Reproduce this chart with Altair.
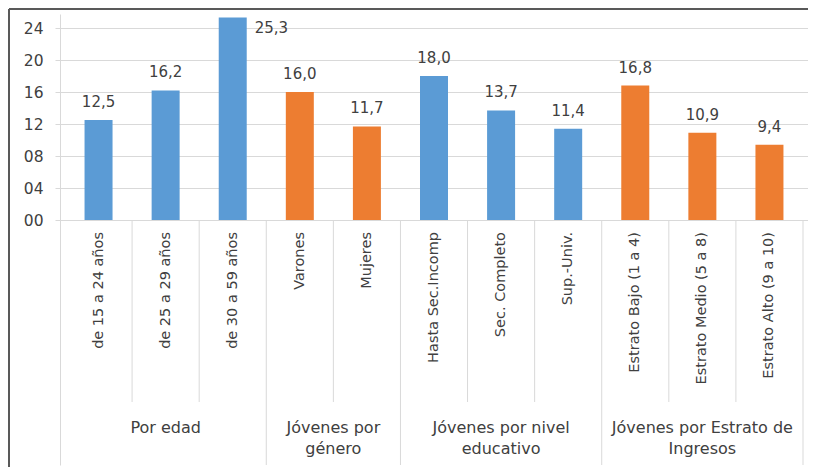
import altair as alt
import pandas as pd

categories = ["de 15 a 24 años", "de 25 a 29 años", "de 30 a 59 años",
              "Varones", "Mujeres",
              "Hasta Sec.Incomp", "Sec. Completo", "Sup.-Univ.",
              "Estrato Bajo (1 a 4)", "Estrato Medio (5 a 8)", "Estrato Alto (9 a 10)"]
values = [12.5, 16.2, 25.3, 16.0, 11.7, 18.0, 13.7, 11.4, 16.8, 10.9, 9.4]
groups = ["Por edad", "Jóvenes por\ngénero", "Jóvenes por nivel\neducativo",
          "Jóvenes por Estrato de\nIngresos"]
group_sizes = [3, 2, 3, 3]
group_colors = ["#5B9BD5", "#ED7D31", "#5B9BD5", "#ED7D31"]
y_ticks = [0, 4, 8, 12, 16, 20, 24]

FONT = "DejaVu Sans"
TXT = "#404040"
GRID = "#d9d9d9"

rows = []
i = 0
bounds = []
gstart = 0
grows = []
for g, n in zip(groups, group_sizes):
    for _ in range(n):
        rows.append({"idx": i, "xc": i + 0.5, "cat": categories[i], "value": values[i],
                     "grp": g, "lab": f"{values[i]:.1f}".replace(".", ",")})
        i += 1
    grows.append({"grp": g, "xc": gstart + n / 2.0, "b": gstart + n})
    for k in range(1, n):
        bounds.append({"b": gstart + k})
    gstart += n
df = pd.DataFrame(rows)
gdf = pd.DataFrame(grows)
bdf = pd.DataFrame(bounds)

YMIN, YMAX = -30.625, 25.75
xs = alt.Scale(domain=[0, len(categories)], nice=False, zero=False)
ys = alt.Scale(domain=[YMIN, YMAX], nice=False, zero=False)

base = alt.Chart(df)

bars = base.mark_bar(size=28).encode(
    x=alt.X("xc:Q", scale=xs, axis=None),
    y=alt.Y("value:Q", scale=ys, title=None,
            axis=alt.Axis(values=y_ticks, grid=True, gridColor=GRID, domainColor=GRID,
                          tickColor=GRID, tickSize=5, labelPadding=12, labelFontSize=15.5,
                          labelFont=FONT, labelColor=TXT,
                          labelExpr="datum.value < 10 ? '0' + datum.value : '' + datum.value")),
    color=alt.Color("grp:N", scale=alt.Scale(domain=groups, range=group_colors), legend=None),
)

vlabels = base.transform_filter("datum.value <= 24").mark_text(
    font=FONT, fontSize=15, color=TXT, baseline="middle", dy=-18
).encode(x=alt.X("xc:Q"), y=alt.Y("value:Q"), text="lab:N")

olabels = base.transform_filter("datum.value > 24").transform_calculate(ly="24").mark_text(
    font=FONT, fontSize=15, color=TXT, baseline="middle", align="left", dx=22
).encode(x=alt.X("xc:Q"), y=alt.Y("ly:Q"), text="lab:N")

catlabels = base.transform_calculate(ly="-1.5").mark_text(
    font=FONT, fontSize=14.5, color=TXT, angle=270, align="right", baseline="middle"
).encode(x=alt.X("xc:Q"), y=alt.Y("ly:Q"), text="cat:N")

short_sep = alt.Chart(bdf).transform_calculate(y0="0", y1="-22.75").mark_rule(
    color=GRID, strokeWidth=1).encode(x=alt.X("b:Q"), y=alt.Y("y0:Q"), y2="y1:Q")

group_sep = alt.Chart(gdf).transform_calculate(y0="0", y1=str(YMIN)).mark_rule(
    color=GRID, strokeWidth=1).encode(x=alt.X("b:Q"), y=alt.Y("y0:Q"), y2="y1:Q")

glabels = alt.Chart(gdf).transform_calculate(ly="-26").mark_text(
    font=FONT, fontSize=16, color=TXT, baseline="middle", align="center",
    lineBreak="\n", lineHeight=21
).encode(x=alt.X("xc:Q"), y=alt.Y("ly:Q"), text="grp:N")

frame_top = alt.Chart(df.head(1)).mark_rule(color="#595959", strokeWidth=2).encode(
    x=alt.value(-51), x2=alt.value(748), y=alt.value(-5))
frame_left = alt.Chart(df.head(1)).mark_rule(color="#595959", strokeWidth=2).encode(
    x=alt.value(-51), y=alt.value(-5), y2=alt.value(460))

chart = alt.layer(
    bars, short_sep, group_sep, vlabels, olabels, catlabels, glabels, frame_top, frame_left
).properties(
    width=748, height=451,
    autosize=alt.AutoSizeParams(type="none"),
    padding={"left": 52, "top": 6, "right": 0, "bottom": 2},
    background="white",
).configure_view(stroke=None)

chart.save("out.html", embed_options={"renderer": "svg", "actions": False})
